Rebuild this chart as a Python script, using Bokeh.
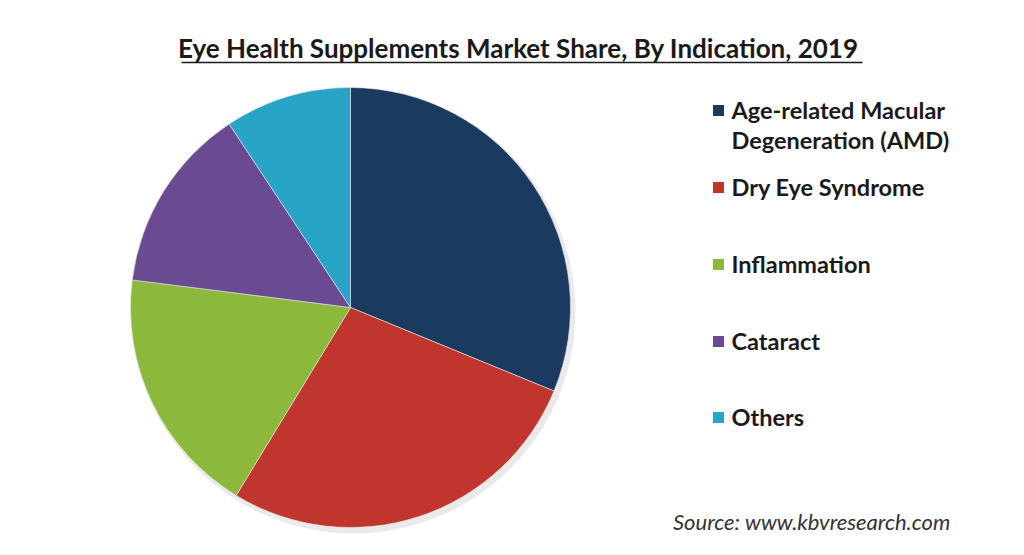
import math
from bokeh.plotting import figure
from bokeh.models import Range1d, ColumnDataSource
from bokeh.core.properties import value
from bokeh.embed import file_html
from bokeh.resources import INLINE

# ---- data ----
categories = ["Age-related Macular\nDegeneration (AMD)", "Dry Eye Syndrome",
              "Inflammation", "Cataract", "Others"]
shares = [31.2, 27.5, 18.3, 13.7, 9.3]
colors = ["#1b3a5f", "#c1352f", "#8cb83b", "#6a4a91", "#27a4c6"]
title_text = "Eye Health  Supplements Market Share, By Indication, 2019"
source_text = "Source: www.kbvresearch.com"

W, H = 1008, 539
p = figure(width=W, height=H, x_range=Range1d(0, W), y_range=Range1d(0, H),
           output_backend="svg", toolbar_location=None, min_border=0)
p.axis.visible = False
p.grid.visible = False
p.outline_line_color = None
p.background_fill_color = "white"

# angles (clockwise from 12 o'clock)
total = sum(shares)
starts, ends = [], []
a = math.pi / 2
for s in shares:
    b = a - 2 * math.pi * s / total
    starts.append(b)
    ends.append(a)
    a = b

cx, cy, r = 350, 232, 220
# soft shadow
p.circle(x=[cx + 3], y=[cy - 4], radius=r + 2, fill_color="#888888",
         fill_alpha=0.18, line_color=None)
src = ColumnDataSource(dict(start=starts, end=ends, color=colors))
p.wedge(x=cx, y=cy, radius=r, start_angle="start", end_angle="end",
        fill_color="color", line_color="#e8e8e8", line_width=0.6, source=src)

# title with underline
p.text(x=[521], y=[492], text=[title_text], text_font=value("Lato"),
       text_font_style="bold", text_font_size="26px", text_color="#1a1a1a",
       text_align="center", text_baseline="middle")
p.segment(x0=[181], y0=[477], x1=[862], y1=[477], line_color="#1a1a1a",
          line_width=1.6)

# legend
ly = [429, 352, 275, 198, 122]
p.scatter(x=[718] * 5, y=ly, marker="square", size=11, fill_color=colors,
          line_color=None)
p.text(x=[731] * 5, y=[v + 15 for v in ly], text=categories,
       text_font=value("Lato"), text_font_style="bold", text_font_size="23.5px",
       text_color="#1a1a1a", text_align="left", text_baseline="top",
       text_line_height=1.1)

# source
p.text(x=[950], y=[18], text=[source_text], text_font=value("Lato"),
       text_font_style="italic", text_font_size="22px", text_color="#333333",
       text_align="right", text_baseline="middle")

open("out.html", "w").write(file_html(p, INLINE))
